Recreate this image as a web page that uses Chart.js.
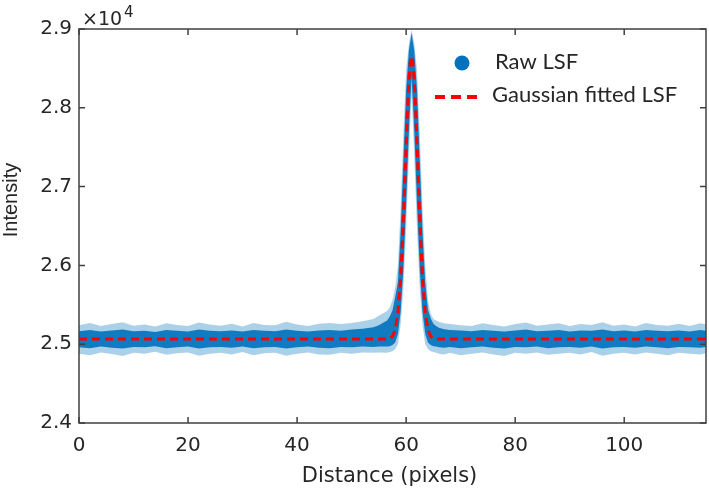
<!DOCTYPE html>
<html>
<head>
<meta charset="utf-8">
<script src="https://cdn.jsdelivr.net/npm/chart.js@4.4.1/dist/chart.umd.min.js"></script>
<style>
  html, body { margin: 0; padding: 0; background: #fff; }
</style>
</head>
<body>
<canvas id="lsf" width="709" height="490"></canvas>
<script>
// axis ticks
const xTicks = [0, 20, 40, 60, 80, 100];
const yTicks = [24000, 25000, 26000, 27000, 28000, 29000];

// raw LSF band (dense core and sparse outer dots)
const rawX = [0,2,4,6,8,10,12,14,16,18,20,22,24,26,28,30,32,34,36,38,40,42,44,46,48,50,52,54,55,
  56.5,57,57.5,58,58.5,59,59.5,60,60.5,61,61.5,62,62.5,63,63.5,64,64.5,65,65.5,
  66,67,68,70,72,74,76,78,80,82,84,86,88,90,92,94,96,98,100,102,104,106,108,110,112,114,115];
const coreHi = [25165,25180,25160,25175,25185,25165,25170,25155,25180,25170,25160,25185,25170,25165,25175,25160,25180,25170,25165,25185,25170,25160,25175,25180,25170,25185,25195,25215,25240,
  25300,25350,25430,25600,25790,26447,27342,28225,28724,28950,28724,28225,27342,26447,25790,25440,25330,25260,25230,
  25210,25190,25180,25175,25165,25180,25170,25160,25175,25185,25165,25170,25180,25160,25175,25170,25185,25165,25175,25160,25180,25170,25165,25175,25160,25180,25170];
const coreLo = [24960,24950,24970,24955,24945,24965,24960,24975,24950,24960,24970,24945,24960,24965,24955,24970,24950,24960,24965,24945,24960,24970,24955,24950,24965,24960,24970,24965,24970,
  24970,24975,24990,25020,25132,25410,25949,26768,27697,28392,27697,26768,25949,25410,25132,25020,24990,24975,24970,
  24960,24955,24965,24950,24960,24970,24955,24945,24965,24960,24970,24950,24960,24965,24955,24970,24945,24960,24965,24955,24970,24960,24950,24965,24960,24955,24965];
const outerHi = [25240,25270,25230,25255,25280,25235,25250,25225,25265,25245,25230,25275,25250,25235,25260,25225,25270,25245,25240,25285,25250,25230,25260,25270,25255,25270,25290,25320,25360,
  25420,25470,25560,25720,26006,26748,27675,28481,28805,28990,28805,28481,27675,26748,26006,25560,25390,25320,25300,
  25285,25265,25255,25240,25230,25265,25245,25225,25255,25275,25235,25250,25265,25230,25255,25245,25280,25235,25250,25225,25270,25245,25235,25260,25230,25265,25250];
const outerLo = [24880,24860,24895,24875,24850,24890,24880,24905,24865,24885,24895,24855,24880,24890,24870,24900,24860,24885,24890,24855,24880,24895,24870,24865,24890,24880,24895,24890,24895,
  24890,24900,24910,24940,25000,25253,25706,26448,27375,28181,27375,26448,25706,25253,25000,24940,24910,24900,24890,
  24880,24870,24890,24860,24880,24895,24870,24850,24890,24880,24895,24865,24880,24890,24870,24900,24855,24880,24890,24870,24895,24880,24860,24890,24880,24870,24885];

// gaussian fitted LSF
const fitX = [0,55,56.5,57,57.5,58,58.5,59,59.25,59.5,59.75,60,60.25,60.5,60.75,61,
  61.25,61.5,61.75,62,62.25,62.5,62.75,63,63.5,64,64.5,65,65.5,67,115];
const fitY = [25065,25065,25067,25073,25100,25185,25403,25856,26193,26598,27053,27525,27967,28331,28571,28655,
  28571,28331,27967,27525,27053,26598,26193,25856,25403,25185,25100,25073,25067,25065,25065];

const BLUE = '#0072BD';
const INK = '#262626';

function pts(xs, ys) {
  return xs.map((x, i) => ({ x: x, y: ys[i] }));
}

const decor = {
  id: 'decor',
  afterDraw(chart) {
    const ctx = chart.ctx;
    const a = chart.chartArea;
    const xs = chart.scales.x, ys = chart.scales.y;
    ctx.save();
    // box + inward ticks (matlab style)
    ctx.strokeStyle = '#404040';
    ctx.lineWidth = 1.5;
    ctx.strokeRect(a.left, a.top, a.right - a.left, a.bottom - a.top);
    ctx.beginPath();
    xTicks.forEach(v => {
      const px = xs.getPixelForValue(v);
      ctx.moveTo(px, a.bottom); ctx.lineTo(px, a.bottom - 6);
      ctx.moveTo(px, a.top); ctx.lineTo(px, a.top + 6);
    });
    yTicks.forEach(v => {
      const py = ys.getPixelForValue(v);
      ctx.moveTo(a.left, py); ctx.lineTo(a.left + 6, py);
      ctx.moveTo(a.right, py); ctx.lineTo(a.right - 6, py);
    });
    ctx.stroke();

    // exponent
    ctx.fillStyle = INK;
    ctx.textBaseline = 'alphabetic';
    ctx.textAlign = 'left';
    ctx.font = '19px "DejaVu Sans"';
    ctx.fillText('\u00d710', a.left + 3, a.top - 4);
    ctx.font = '15px "DejaVu Sans"';
    ctx.fillText('4', a.left + 45, a.top - 12);

    // axis titles
    ctx.font = '21px "DejaVu Sans"';
    ctx.textAlign = 'center';
    ctx.fillText('Distance (pixels)', (a.left + a.right) / 2 - 3, 482);
    ctx.save();
    ctx.translate(11, 200);
    ctx.rotate(-Math.PI / 2);
    ctx.font = '20px "Liberation Sans"';
    ctx.textBaseline = 'middle';
    ctx.fillText('Intensity', 0, 0);
    ctx.restore();

    // legend
    const lx = a.right - 244;
    ctx.fillStyle = BLUE;
    ctx.beginPath();
    ctx.arc(lx, 63, 7.5, 0, Math.PI * 2);
    ctx.fill();
    ctx.strokeStyle = '#ff0000';
    ctx.lineWidth = 4;
    ctx.setLineDash([10, 6]);
    ctx.beginPath();
    ctx.moveTo(lx - 27, 97); ctx.lineTo(lx + 20, 97);
    ctx.stroke();
    ctx.setLineDash([]);
    ctx.fillStyle = INK;
    ctx.textAlign = 'left';
    ctx.textBaseline = 'middle';
    ctx.font = '22px Lato';
    ctx.fillText('Raw LSF', lx + 33, 62);
    ctx.fillText('Gaussian fitted LSF', lx + 30, 95);
    ctx.restore();
  }
};

new Chart(document.getElementById('lsf'), {
  type: 'scatter',
  data: {
    datasets: [
      { label: 'outerLo', data: pts(rawX, outerLo), showLine: true, pointRadius: 0, borderWidth: 0, borderColor: 'rgba(0,0,0,0)', fill: false, order: 3 },
      { label: 'outerHi', data: pts(rawX, outerHi), showLine: true, pointRadius: 0, borderWidth: 0, borderColor: 'rgba(0,0,0,0)', fill: '-1', backgroundColor: 'rgba(0,114,189,0.33)', order: 3 },
      { label: 'coreLo', data: pts(rawX, coreLo), showLine: true, pointRadius: 0, borderWidth: 0, borderColor: 'rgba(0,0,0,0)', fill: false, order: 2 },
      { label: 'Raw LSF', data: pts(rawX, coreHi), showLine: true, pointRadius: 0, borderWidth: 0, borderColor: 'rgba(0,0,0,0)', fill: '-1', backgroundColor: 'rgba(0,114,189,0.9)', order: 2 },
      { label: 'Gaussian fitted LSF', data: pts(fitX, fitY), showLine: true, pointRadius: 0, borderWidth: 3, borderColor: '#ff0000', borderDash: [8, 5], fill: false, order: 0 }
    ]
  },
  options: {
    responsive: false,
    animation: false,
    devicePixelRatio: 1,
    layout: { padding: { top: 29, right: 3, left: 0, bottom: 0 } },
    plugins: { legend: { display: false }, tooltip: { enabled: false } },
    scales: {
      x: {
        type: 'linear', min: 0, max: 115,
        grid: { display: false, drawTicks: false },
        border: { display: false },
        afterBuildTicks: s => { s.ticks = xTicks.map(v => ({ value: v })); },
        afterFit: s => { s.height = 67; },
        ticks: { padding: 11, color: INK, font: { family: 'DejaVu Sans', size: 20 }, maxRotation: 0 }
      },
      y: {
        type: 'linear', min: 24000, max: 29000,
        grid: { display: false, drawTicks: false },
        border: { display: false },
        afterBuildTicks: s => { s.ticks = yTicks.map(v => ({ value: v })); },
        afterFit: s => { s.width = 79; },
        ticks: { padding: 7, color: INK, font: { family: 'DejaVu Sans', size: 20 },
          callback: v => (v / 10000).toFixed(1) }
      }
    }
  },
  plugins: [decor]
});
</script>
</body>
</html>
